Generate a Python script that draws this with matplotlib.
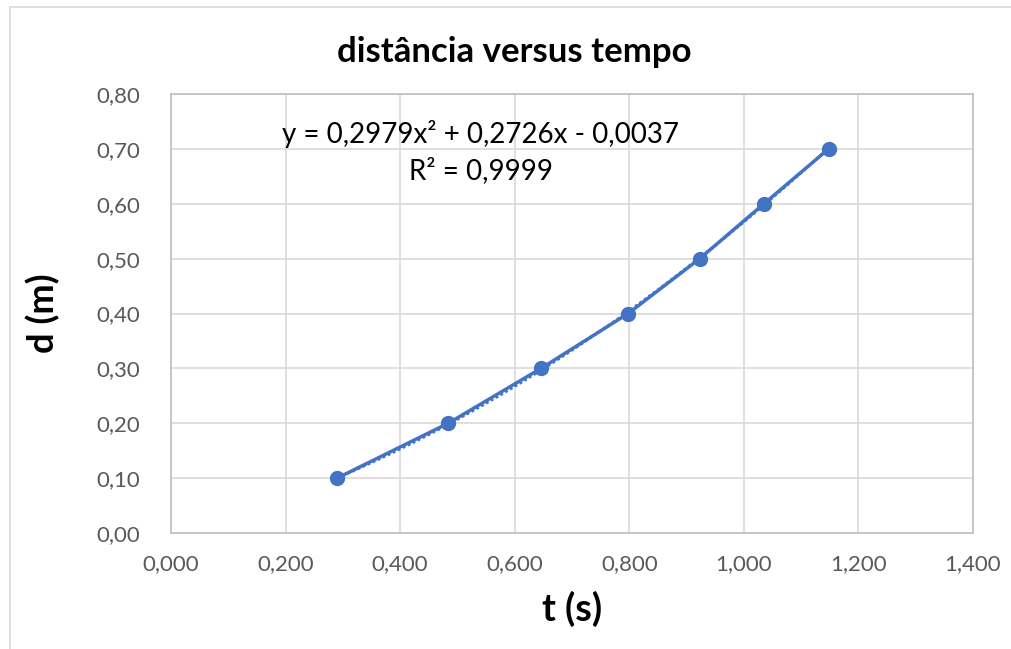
import numpy as np
import matplotlib.pyplot as plt
from matplotlib.ticker import FuncFormatter, MultipleLocator

# measured times (s) and distances (m)
tempo = [0.290, 0.484, 0.646, 0.798, 0.923, 1.035, 1.148]
distancia = [0.10, 0.20, 0.30, 0.40, 0.50, 0.60, 0.70]

# quadratic trendline coefficients as shown on the chart
coef = [0.2979, 0.2726, -0.0037]
r2 = 0.9999

blue = '#4472C4'
grid_col = '#D9D9D9'
text_col = '#595959'

plt.rcParams['font.family'] = ['Lato', 'DejaVu Sans']

fig = plt.figure(figsize=(10.11, 6.49), dpi=100)
ax = fig.add_axes([171/1011, 1-533/649, 802/1011, 439/649])

# data series
ax.plot(tempo, distancia, color=blue, lw=2.5, marker='o', ms=10, zorder=3)

# trendline, dotted
xt = np.linspace(tempo[0], tempo[-1], 200)
yt = np.polyval(coef, xt)
ax.plot(xt, yt, color=blue, lw=2, ls=(0, (1, 1)), zorder=2)

ax.set_xlim(0, 1.4)
ax.set_ylim(0, 0.8)
ax.xaxis.set_major_locator(MultipleLocator(0.2))
ax.yaxis.set_major_locator(MultipleLocator(0.1))
ax.xaxis.set_major_formatter(FuncFormatter(lambda v, p: f'{v:.3f}'.replace('.', ',')))
ax.yaxis.set_major_formatter(FuncFormatter(lambda v, p: f'{v:.2f}'.replace('.', ',')))
ax.tick_params(length=0, labelsize=16, labelcolor=text_col)
ax.tick_params(axis='x', pad=15)
ax.tick_params(axis='y', pad=22)
ax.grid(True, color=grid_col, lw=1.2)
ax.set_axisbelow(True)
for s in ax.spines.values():
    s.set_color('#BFBFBF')
    s.set_linewidth(1.2)

ax.set_xlabel('t (s)', fontsize=27, fontweight='bold', labelpad=12)
ax.set_ylabel('d (m)', fontsize=26, fontweight='bold', labelpad=26)
fig.text(514/1011, 1-52/649, 'distância versus tempo', ha='center', va='center',
         fontsize=25, fontweight='bold')

eq = 'y = {}x² + {}x - {}'.format(*[f'{abs(c):.4f}'.replace('.', ',') for c in coef])
ax.text(0.541, 0.728, eq, ha='center', va='center', fontsize=20)
ax.text(0.541, 0.66, 'R² = ' + f'{r2:.4f}'.replace('.', ','), ha='center', va='center', fontsize=20)

# outer chart border
fig.patches.append(plt.Rectangle((10/1011, -0.01), 1.0, 1 - 7/649 + 0.01, transform=fig.transFigure,
                                 fill=False, edgecolor='#D9D9D9', lw=1.2))

fig.savefig('out.png', dpi=100)
